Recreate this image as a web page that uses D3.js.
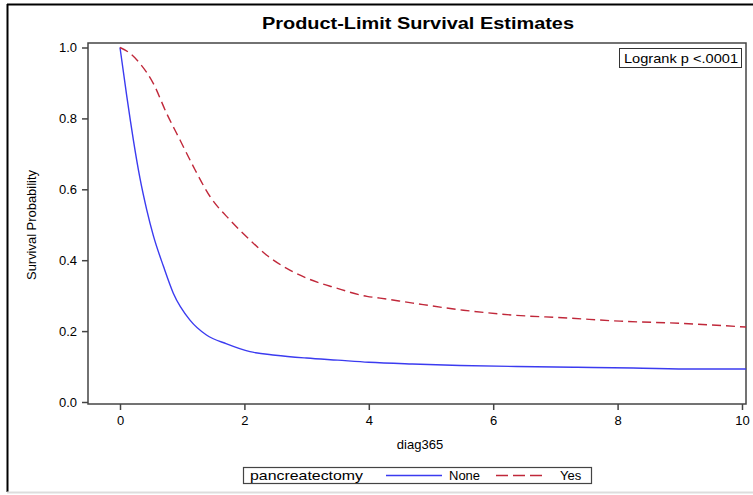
<!DOCTYPE html>
<html>
<head>
<meta charset="utf-8">
<script src="https://cdn.jsdelivr.net/npm/d3@7"></script>
<style>
  body { margin: 0; background: #fff; }
  text { font-family: "Liberation Sans", Arial, sans-serif; fill: #000; }
</style>
</head>
<body>
<div id="chart"></div>
<script>
// survival estimates (years, probability)
var noneTime = [0, 0.107, 0.17, 0.214, 0.32, 0.43, 0.535, 0.70, 0.857, 1.125, 1.39, 1.715, 2.09, 2.5, 3.0, 3.5, 4.0, 4.7, 5.47, 6.38, 7.35, 8.25, 9.24, 10.1];
var noneSurv = [1.0, 0.865, 0.79, 0.74, 0.632, 0.542, 0.47, 0.382, 0.307, 0.231, 0.189, 0.164, 0.142, 0.132, 0.124, 0.118, 0.112, 0.107, 0.103, 0.1, 0.098, 0.096, 0.093, 0.093];

var yesTime = [0, 0.15, 0.32, 0.535, 0.75, 0.965, 1.18, 1.45, 1.77, 2.09, 2.36, 2.73, 3.17, 3.43, 3.97, 4.18, 4.71, 5.52, 6.33, 7.19, 8.04, 9.0, 10.1];
var yesSurv = [1.0, 0.985, 0.955, 0.899, 0.814, 0.739, 0.664, 0.579, 0.513, 0.457, 0.414, 0.372, 0.338, 0.324, 0.298, 0.293, 0.279, 0.259, 0.245, 0.237, 0.228, 0.222, 0.211];

var xTicks = [0, 2, 4, 6, 8, 10];
var yTicks = [0, 0.2, 0.4, 0.6, 0.8, 1.0];
var groups = ['None', 'Yes'];

var svg = d3.select('#chart').append('svg')
  .attr('width', 753)
  .attr('height', 495);

// outer frame
svg.append('line').attr('x1', 7.5).attr('x2', 7.5).attr('y1', 4).attr('y2', 492)
  .style('stroke', '#000').style('stroke-width', 2);
svg.append('line').attr('x1', 7).attr('x2', 753).attr('y1', 4.5).attr('y2', 4.5)
  .style('stroke', '#000').style('stroke-width', 2);
svg.append('line').attr('x1', 7).attr('x2', 753).attr('y1', 492.5).attr('y2', 492.5)
  .style('stroke', '#ddd').style('stroke-width', 2);

var x = d3.scaleLinear().domain([0, 10]).range([120, 742]);
var y = d3.scaleLinear().domain([0, 1]).range([402, 47.5]);

var pLeft = 88, pRight = 746, pTop = 43, pBottom = 404;

svg.append('text')
  .attr('x', 418).attr('y', 29)
  .attr('text-anchor', 'middle')
  .attr('textLength', 312)
  .attr('lengthAdjust', 'spacingAndGlyphs')
  .style('font-size', '16px')
  .style('font-weight', 'bold')
  .text('Product-Limit Survival Estimates');

// plot frame
svg.append('rect')
  .attr('x', pLeft).attr('y', pTop)
  .attr('width', pRight - pLeft).attr('height', pBottom - pTop)
  .style('fill', 'none')
  .style('stroke', '#444')
  .style('stroke-width', 1.5);

var xAxis = svg.append('g')
  .attr('transform', 'translate(0,' + pBottom + ')')
  .call(d3.axisBottom(x).tickValues(xTicks).tickSize(6).tickPadding(6).tickFormat(d3.format('d')));
xAxis.select('.domain').remove();
xAxis.selectAll('line').style('stroke', '#444').style('stroke-width', 1.5);
xAxis.selectAll('text').style('font-size', '13px').attr('font-family', null);

var yAxis = svg.append('g')
  .attr('transform', 'translate(' + pLeft + ',0)')
  .call(d3.axisLeft(y).tickValues(yTicks).tickSize(6).tickPadding(5).tickFormat(d3.format('.1f')));
yAxis.select('.domain').remove();
yAxis.selectAll('line').style('stroke', '#444').style('stroke-width', 1.5);
yAxis.selectAll('text').style('font-size', '13px').attr('font-family', null);

svg.append('text')
  .attr('x', 420).attr('y', 449)
  .attr('text-anchor', 'middle')
  .style('font-size', '13px')
  .text('diag365');

svg.append('text')
  .attr('transform', 'translate(36,' + 225 + ') rotate(-90)')
  .attr('text-anchor', 'middle')
  .attr('textLength', 110)
  .attr('lengthAdjust', 'spacingAndGlyphs')
  .style('font-size', '12px')
  .text('Survival Probability');

var line = d3.line()
  .x(function(d){ return x(d[0]); })
  .y(function(d){ return y(d[1]); })
  .curve(d3.curveMonotoneX);

svg.append('clipPath').attr('id', 'plotclip')
  .append('rect').attr('x', pLeft).attr('y', pTop).attr('width', pRight - pLeft).attr('height', pBottom - pTop);

var plot = svg.append('g').attr('clip-path', 'url(#plotclip)');

plot.append('path')
  .datum(noneTime.map(function(t, i){ return [t, noneSurv[i]]; }))
  .attr('d', line)
  .style('fill', 'none')
  .style('stroke', '#3b3bf0')
  .style('stroke-width', 1.4);

plot.append('path')
  .datum(yesTime.map(function(t, i){ return [t, yesSurv[i]]; }))
  .attr('d', line)
  .style('fill', 'none')
  .style('stroke', '#c0283a')
  .style('stroke-width', 1.4)
  .style('stroke-dasharray', '9,5');

// logrank inset
svg.append('rect')
  .attr('x', 619.5).attr('y', 48.5).attr('width', 122).attr('height', 19)
  .style('fill', '#fff').style('stroke', '#333');
svg.append('text')
  .attr('x', 624).attr('y', 63)
  .attr('textLength', 114)
  .attr('lengthAdjust', 'spacingAndGlyphs')
  .style('font-size', '13px')
  .text('Logrank p <.0001');

// legend
var lg = svg.append('g');
lg.append('rect')
  .attr('x', 243.5).attr('y', 467.5).attr('width', 348).attr('height', 16)
  .style('fill', '#fff').style('stroke', '#444').style('stroke-width', 1.2);
lg.append('text')
  .attr('x', 250).attr('y', 480)
  .attr('textLength', 113)
  .attr('lengthAdjust', 'spacingAndGlyphs')
  .style('font-size', '13px')
  .text('pancreatectomy');

var legendItems = [
  { label: groups[0], x1: 386, x2: 442, tx: 449, color: '#3b3bf0', dash: null },
  { label: groups[1], x1: 496, x2: 547, tx: 560, color: '#c0283a', dash: '12,5' }
];
legendItems.forEach(function(d){
  lg.append('line')
    .attr('x1', d.x1).attr('x2', d.x2).attr('y1', 475.5).attr('y2', 475.5)
    .style('stroke', d.color).style('stroke-width', 1.4)
    .style('stroke-dasharray', d.dash);
  lg.append('text')
    .attr('x', d.tx).attr('y', 480)
    .style('font-size', '13px')
    .text(d.label);
});
</script>
</body>
</html>
